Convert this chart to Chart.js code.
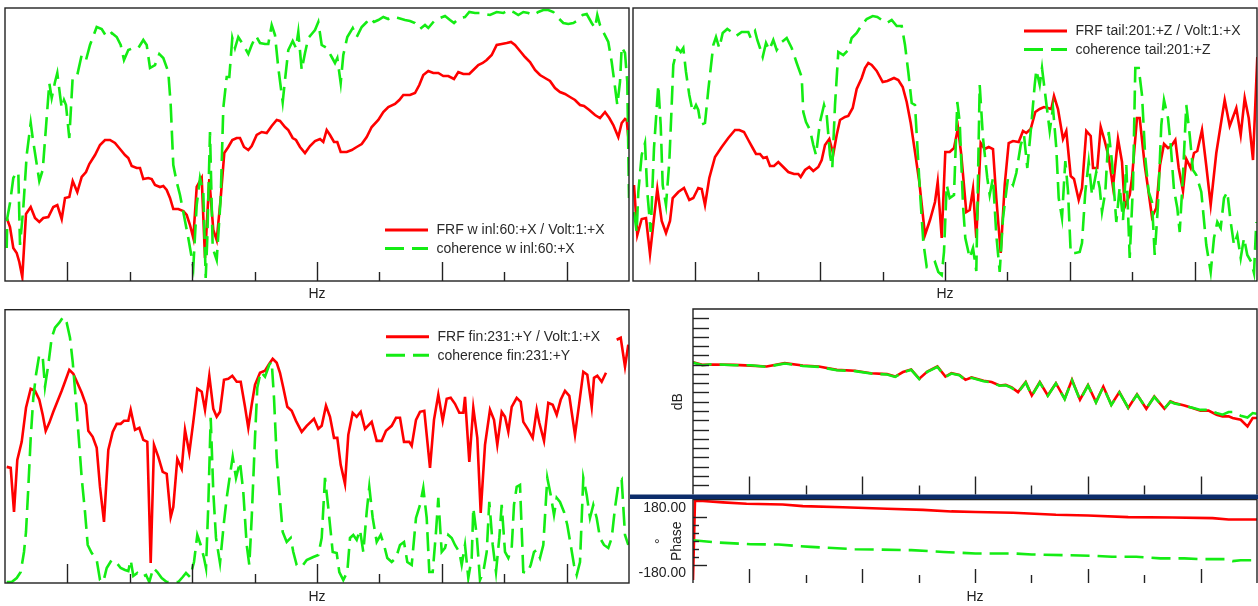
<!DOCTYPE html>
<html><head><meta charset="utf-8">
<script src="https://cdn.jsdelivr.net/npm/chart.js@4.4.1/dist/chart.umd.min.js"></script>
<style>
html,body{margin:0;padding:0;background:#fff;}
#wrap{position:relative;width:1258px;height:606px;overflow:hidden;background:#fff;}
canvas{position:absolute;}
</style></head><body>
<div id="wrap">
<canvas id="c1" width="630" height="305" style="left:0;top:0"></canvas>
<canvas id="c2" width="628" height="305" style="left:630px;top:0"></canvas>
<canvas id="c3" width="630" height="301" style="left:0;top:305px"></canvas>
<canvas id="c4" width="628" height="194" style="left:630px;top:305px"></canvas>
<canvas id="c5" width="628" height="107" style="left:630px;top:499px"></canvas>
</div>
<script>
// ---------- DATA: [frequency (Hz), amplitude] ----------
const winlFrf = [[1.7,63],[5,54],[8.3,33],[11.7,28],[14.3,19],[17.3,4],[21,67],[25.7,74],[30,63],[34.3,59],[38.3,63],[43.3,64],[48.3,74],[52.3,76],[56.7,62],[60,83],[64.3,84],[67.7,100],[72.3,89],[76.7,104],[81,109],[84.3,117],[90,126],[95,136],[100,141],[105,141],[110,138],[115,132],[120,126],[123.3,123],[126.7,115],[131.7,113],[135,113],[138.3,102],[143.3,103],[146.7,102],[150,96],[155,94],[158.3,95],[161.7,91],[165,83],[168.3,72],[173.3,72],[178.3,70],[181.7,66],[185,56],[188.3,43],[191.7,94],[196.7,103],[200,23],[204.3,102],[208.3,51],[211.7,41],[215.7,83],[219.3,128],[223.3,134],[227.3,141],[231.7,143],[235,143],[239,134],[243.3,131],[246.7,135],[251.7,146],[256.7,149],[261.7,148],[266.7,155],[271.7,161],[275,160],[280,154],[283.3,151],[287.7,143],[291,141],[295,134],[300,128],[305,135],[310,140],[315,142],[318.3,139],[321.7,151],[325,146],[329,139],[332.3,139],[335.7,129],[341.7,129],[346.7,131],[351.7,134],[356.7,137],[361.7,144],[366.7,154],[373.3,161],[378.3,169],[383.3,174],[390,177],[394.3,181],[398.3,186],[405,186],[410,188],[414.3,196],[418.3,206],[423.3,210],[428.3,208],[433.3,208],[438.3,205],[443.3,205],[449,202],[453.3,209],[458.3,207],[464.3,207],[468.3,211],[473.3,216],[477.7,218],[481.7,221],[486.7,226],[491.7,236],[496.7,237],[501.7,238],[506,239],[510,236],[515,230],[520,224],[525,219],[530,211],[535,206],[540,203],[545,200],[550,193],[555,189],[560,187],[565,184],[570,181],[575,176],[579,175],[584.3,171],[590,166],[595,163],[600,169],[604.3,163],[608.3,156],[613.3,144],[616.7,158],[620,162],[621.7,161],[624.3,133]];
const winlCoh = [[1.7,33],[2.3,63],[5,78],[8.3,103],[10,106],[13.3,109],[15,36],[18.3,73],[21.7,126],[25.7,158],[27.7,143],[30,128],[34.3,100],[37.7,111],[41,154],[44.3,198],[46.7,183],[50,199],[52.3,208],[55,186],[56.7,173],[59,181],[61,176],[64.3,143],[67.7,204],[72.3,206],[76.7,226],[81,221],[85,236],[91.7,254],[96.7,252],[101.7,244],[106.7,248],[111.7,244],[115.7,236],[119,221],[123.3,231],[128.3,233],[133.3,233],[138.3,241],[141.7,236],[145,213],[150,216],[154.3,227],[158.3,223],[163.3,209],[165.7,176],[168.3,116],[171.7,99],[175,86],[178.3,69],[183.3,43],[188.3,14],[191.7,76],[195,103],[198.3,89],[200.7,3],[202.3,43],[205,149],[207.7,33],[211.7,21],[215.7,83],[218.3,173],[221.7,204],[224.3,204],[227.3,243],[230,233],[233.3,244],[238.3,236],[243.3,227],[246.7,236],[251,245],[255,238],[260,237],[263.3,237],[266.7,256],[270,246],[273.3,213],[277.7,179],[280,201],[283.3,231],[287.7,240],[291,233],[293.3,249],[296.7,211],[300,228],[303.3,243],[306.7,247],[310,251],[313.3,259],[316.7,236],[321.7,233],[326.7,224],[330,218],[332.3,223],[335.7,198],[338.3,226],[342.3,244],[347.7,253],[351.7,244],[356.7,254],[361.7,259],[365,263],[369,259],[373.3,261],[378.3,264],[383.3,262],[388.3,264],[393.3,263],[400,261],[405,260],[410,258],[415,252],[420,256],[423.3,253],[430,261],[435,263],[440,265],[445,261],[449,258],[454.3,263],[460,264],[464.3,269],[470,268],[475,268],[480,267],[485,266],[491.7,269],[498.3,268],[503.3,271],[508.3,269],[513.3,266],[518.3,269],[523.3,268],[528.3,266],[533.3,269],[538.3,271],[543.3,271],[548.3,269],[553.3,263],[558.3,258],[563.3,257],[568.3,258],[573.3,261],[577.7,266],[581.7,267],[586.7,258],[590,253],[592.3,266],[595,256],[598.3,249],[603.3,239],[606.7,219],[610,194],[612.3,176],[615,199],[616.7,234],[620,228],[622.3,199],[624,83]];
const tailFrf = [[1,96],[4.3,46],[8.7,62],[13,63],[17,27],[21,63],[24.3,92],[28.7,60],[33,48],[37,60],[39.7,83],[45.3,89],[51,93],[56.3,81],[60.3,83],[65.3,93],[68.7,92],[72,76],[76.3,103],[82,124],[88.7,134],[95.3,143],[102,151],[106.3,151],[111,149],[115.3,141],[119.7,133],[123,127],[127,127],[130.3,123],[133.7,124],[137,115],[141,115],[145.3,119],[150.3,114],[155.3,109],[161,107],[165.3,107],[167.7,104],[172,111],[176.3,114],[180.3,110],[185.3,114],[188.7,121],[192,136],[196.3,142],[200.3,127],[203.7,146],[207,161],[212,164],[215.3,165],[219.7,173],[223.7,192],[228.7,203],[232,213],[235.3,218],[238.7,216],[243.7,210],[249.7,199],[254.3,200],[261,203],[265.3,201],[269.7,194],[273.7,179],[277.7,158],[282,129],[286.3,99],[292,46],[297,61],[302,79],[304.7,99],[308.7,43],[312.3,129],[316.7,129],[321,133],[325,153],[328.3,126],[333.3,69],[336.7,71],[340,92],[343.3,43],[347.7,138],[351.7,132],[355.7,134],[360,132],[363.3,83],[367.7,28],[371.7,96],[375.7,138],[380,140],[385.7,139],[390,150],[393.3,148],[397.7,152],[402.3,169],[406.7,172],[411,174],[415,173],[418.3,172],[421,185],[425,172],[430,142],[433.3,150],[437.7,105],[441,102],[445.7,81],[449,93],[453.3,150],[457.7,145],[460,113],[464.3,113],[467.7,154],[471.7,140],[475.7,124],[480,94],[485,142],[489,119],[491.7,74],[496.7,86],[499,103],[504,163],[506.7,163],[511.7,116],[515,93],[519,64],[523.3,73],[527,116],[531,137],[535,133],[538.3,135],[542.3,141],[545.7,113],[550,90],[553.3,122],[557.7,113],[561,128],[564.3,130],[569,151],[573.3,115],[577.7,76],[583.3,128],[587.7,156],[591.7,181],[596.7,155],[603.3,173],[607.7,146],[611.7,183],[615.7,163],[620,121],[624.3,224]];
const tailCoh = [[1,69],[3.7,49],[5.3,89],[8.7,126],[12,138],[14.3,89],[17.7,49],[21,133],[25.3,196],[27.7,156],[29.7,96],[33,76],[36.3,119],[38.7,176],[40.3,216],[44.3,233],[47.7,229],[50.3,233],[53,209],[56.3,186],[59.7,169],[63,176],[65.3,171],[67.7,156],[72,158],[75.3,191],[80.3,236],[83,244],[86.3,233],[89.7,248],[94.3,252],[98.7,249],[103,245],[108.7,249],[115.3,249],[117.7,243],[122,250],[124.3,241],[127,233],[129.7,224],[133,238],[136.3,231],[140.3,241],[143.7,231],[148.7,239],[153.7,243],[158.7,233],[163.7,218],[168.7,204],[170.3,169],[173,159],[177,151],[180.3,136],[183,126],[187,159],[191,176],[193.7,166],[197,126],[199.3,113],[202,176],[205.3,229],[210.3,226],[215.3,231],[218.7,243],[223.7,248],[228.7,256],[233.7,262],[239.7,265],[244.3,264],[248.7,261],[253.7,258],[258.7,261],[263.7,255],[268.7,255],[272,236],[275.3,209],[278.7,178],[282,176],[284.3,136],[287,89],[290.3,39],[293.7,14],[298.7,16],[302,19],[305.3,9],[308.7,6],[311,29],[313.7,96],[316.7,83],[321,86],[324.3,179],[326.7,159],[330,76],[332.3,43],[336.7,23],[340,33],[343.3,10],[346.7,196],[350,143],[354.3,103],[356.7,86],[360,103],[363.3,46],[366.7,9],[370,63],[375,103],[380,96],[383.3,108],[387.7,136],[391,146],[394.3,113],[398.3,156],[401.7,196],[403.3,211],[406.7,196],[409,213],[412.3,186],[416.7,150],[420,173],[423.3,133],[425.7,83],[429,63],[432.3,120],[435,90],[437.7,28],[442.3,28],[446.7,29],[449,38],[452.3,89],[455.7,119],[459,86],[463.3,109],[466.7,93],[469,69],[472.3,89],[475.7,149],[479,119],[483.3,59],[486.7,94],[490,61],[493.3,116],[496.7,23],[500,96],[502.3,213],[505.7,213],[509,186],[512.3,123],[515.7,89],[519,79],[521.7,26],[525,76],[528.3,156],[531,181],[535,163],[537.7,136],[541,91],[544.3,73],[546.7,49],[550,106],[553.3,176],[556.7,146],[560,111],[563.3,106],[568.3,89],[573.3,36],[577.7,9],[581,43],[584.3,59],[587.7,53],[591,83],[594.3,89],[597.7,59],[601,36],[604.3,46],[607.7,23],[611,43],[614.3,26],[618.3,19],[621,8],[623.3,59]];
const finFrf = [[1.7,116],[5.7,115],[9,71],[12.3,123],[16.7,141],[21,175],[25.7,194],[30,192],[34.3,183],[37.7,168],[40.7,152],[44.3,160],[48.3,171],[52.3,181],[56.7,192],[60,201],[64.3,213],[68.3,209],[72.3,200],[76.7,190],[81,178],[83.3,152],[87.7,146],[91.7,135],[95,96],[99,61],[103.3,133],[107.7,151],[111.7,159],[115.7,159],[119,162],[123.3,162],[125.7,173],[130,153],[134.3,155],[138.3,143],[142.3,141],[145.7,20],[149,138],[153.3,126],[157.7,111],[161.7,109],[165.7,66],[168.3,76],[172.3,124],[176.7,114],[180,153],[184.3,130],[188.3,161],[192.3,194],[196.7,191],[200,173],[204.3,207],[208.3,174],[211.7,166],[215,171],[219,203],[223.3,204],[227.3,207],[231.7,201],[235.7,201],[240,176],[243.3,155],[246.7,178],[250,198],[255,210],[260,212],[264.3,219],[267.7,224],[271.7,220],[275,210],[278.3,195],[282.3,176],[286.7,172],[291,162],[296.7,151],[301.7,157],[309,164],[313.3,154],[316.7,157],[321,177],[325,166],[329,145],[332.3,145],[335.7,118],[340,99],[343.3,148],[347.7,170],[351.7,166],[355.7,171],[360,154],[366.7,161],[371.7,142],[376.7,142],[381,152],[386.7,157],[391,165],[395,165],[399,141],[404.3,141],[406.7,137],[411,163],[415,171],[419.3,172],[425,115],[429,163],[433.3,188],[437.7,162],[441.7,184],[445.7,185],[450,179],[454.3,170],[458.3,170],[460,186],[464.3,121],[468.3,175],[472.3,145],[475.7,70],[480,138],[485,173],[489,163],[492.3,138],[496.7,171],[500,166],[503.3,151],[506.7,176],[511.7,185],[515.7,181],[518.3,161],[523.3,153],[527.7,145],[531.7,173],[534.3,160],[539,142],[543.3,180],[547.7,178],[551.7,168],[555.7,183],[560,192],[564.3,187],[570,148],[574.3,180],[578.3,211],[582.3,208],[586.7,176],[589,205],[592.3,207],[596.7,201],[601,210],[606,null],[611.7,243],[615.7,245],[620,216],[623.3,238]];
const finCoh = [[1.7,1],[6.7,1],[11.7,5],[15.7,11],[19,31],[21,51],[23.3,95],[25.7,145],[28.3,185],[31,208],[34.3,228],[37.7,226],[40,196],[43.3,218],[46.7,245],[50,255],[54.3,260],[58.3,266],[61.7,260],[65,245],[67.7,221],[71,181],[73.3,151],[76.7,105],[80,71],[82.7,38],[86.7,30],[91.7,23],[95,3],[98.3,1],[101.7,15],[106.7,23],[111.7,20],[115.7,15],[120,13],[123.3,12],[125.7,23],[128.3,7],[132.3,10],[136.7,6],[141,8],[144.3,1],[148.3,15],[152.3,11],[156.7,5],[161.7,1],[168.3,1],[173.3,1],[177.7,6],[181,10],[185,6],[189,21],[192.3,48],[195.7,38],[199,25],[201,15],[203.3,78],[205.7,165],[208.3,91],[211,45],[215,20],[219,61],[221.7,85],[225,108],[227.7,126],[231,105],[235,121],[238.3,91],[241.7,38],[244.3,18],[246.7,65],[250,145],[252.3,195],[255.7,211],[260,206],[264.3,218],[266.7,221],[269,185],[271.7,125],[274.3,91],[277.7,51],[281.7,41],[285.7,45],[288.3,31],[291.7,18],[296.7,16],[301.7,23],[308.3,26],[313.3,28],[316.7,45],[320,105],[323.3,75],[327.7,31],[331.7,30],[334.3,11],[338.3,3],[342.3,11],[345,45],[348.3,48],[351.7,43],[355,53],[358.3,31],[361.7,71],[364.3,96],[367.7,65],[371.7,41],[375.7,48],[379,38],[382.3,25],[386.7,21],[391,25],[395,38],[399,41],[402.3,21],[406.7,18],[411,65],[415,78],[418.3,95],[421.7,65],[424.3,11],[427.7,11],[431,51],[433.3,85],[436.7,31],[440,35],[443.3,48],[446.7,45],[450,38],[454.3,31],[456.7,18],[460,38],[463.3,5],[466.7,25],[468.3,75],[471.7,48],[475,3],[478.3,11],[481.7,31],[484.3,81],[487.7,38],[491,11],[494.3,45],[496.7,78],[500,31],[503.3,25],[506.7,35],[509,78],[511.7,96],[515,98],[518.3,11],[522.3,10],[525.7,18],[529,31],[531.7,33],[535,25],[538.3,38],[542.3,105],[545.7,88],[549,68],[551.7,85],[555,81],[559,71],[562.3,58],[565.7,38],[569,18],[571.7,8],[575,21],[578.3,105],[581.7,88],[585,65],[588.3,78],[591.7,65],[595,45],[599,38],[603.3,35],[606.7,45],[610,75],[613.3,98],[616.7,103],[620,48],[623.3,38]];
// bottom-right: magnitude (dB) and phase (deg)
const magRed = [[0,-28.7],[9.3,-30.1],[19.4,-29.9],[41.5,-30.1],[57.5,-30.5],[73.6,-31.0],[91.7,-29.2],[109.8,-30.5],[125.8,-31.0],[143.9,-32.8],[162,-33.3],[178,-34.6],[194,-35.1],[202.2,-36.4],[210,-34.0],[218.2,-32.6],[226.3,-37.6],[234.3,-33.7],[244.4,-31.0],[252.4,-36.4],[258.4,-34.6],[266.4,-35.5],[272.5,-38.2],[278.5,-36.9],[290.6,-38.7],[298.6,-39.4],[306.6,-41.2],[312.7,-40.9],[318.7,-42.3],[325,-44.8],[332.7,-39.4],[338.8,-46.6],[346.8,-39.4],[354.8,-46.6],[362.9,-40.0],[371.7,-48.4],[379,-38.2],[387,-48.9],[395,-41.0],[403,-50.2],[410.3,-41.8],[418.3,-51.6],[426.4,-44.8],[435.2,-53.4],[444,-46.0],[453.3,-53.8],[461.3,-47.2],[471.4,-53.8],[477.4,-49.8],[481.4,-50.7],[491.4,-52.0],[499.5,-53.4],[507.5,-54.8],[515.5,-54.8],[523.6,-57.0],[529.6,-57.9],[535.6,-57.9],[539.6,-58.8],[547.7,-59.7],[554.5,-63.3],[559.7,-58.8],[564,-58.8]];
const magGreen = [[0,-28.9],[9.3,-30.3],[19.4,-29.7],[41.5,-30.3],[57.5,-30.3],[73.6,-31.2],[91.7,-29.4],[109.8,-30.7],[125.8,-31.2],[143.9,-33.0],[162,-33.5],[178,-34.8],[194,-35.3],[202.2,-36.6],[210,-34.2],[218.2,-32.8],[226.3,-37.8],[234.3,-33.9],[244.4,-31.2],[252.4,-36.6],[258.4,-34.8],[266.4,-35.7],[272.5,-38.4],[278.5,-37.1],[290.6,-38.9],[298.6,-39.6],[306.6,-41.4],[312.7,-41.1],[318.7,-42.5],[325,-45.0],[332.7,-39.6],[338.8,-46.8],[346.8,-39.6],[354.8,-46.8],[362.9,-40.2],[371.7,-48.6],[379,-38.4],[387,-49.1],[395,-41.2],[403,-50.4],[410.3,-42.0],[418.3,-51.8],[426.4,-45.0],[435.2,-53.2],[444,-46.2],[453.3,-53.6],[461.3,-47.4],[471.4,-53.6],[477.4,-50.0],[481.4,-50.9],[491.4,-52.2],[499.5,-53.2],[507.5,-54.4],[515.5,-54.4],[523.6,-56.1],[529.6,-57.0],[535.6,-55.5],[539.6,-55.5],[547.7,-57.5],[554.5,-58.5],[559.7,-56.1],[564,-56.5]];
const phaseRed = [[0,-218],[2,224],[10,222],[30,214],[53.5,206],[89.7,202],[109.8,193],[150,187],[194,178.5],[230,172],[258.4,163.6],[282.5,160],[320,156],[362.9,145],[395,141],[435.2,132],[479.4,130],[519.6,126.5],[535.6,119],[564,119]];
const phaseGreen = [[0,3],[25.4,-10],[57.5,-19],[85.7,-21],[117.8,-34],[162,-47],[218.2,-52],[250.4,-62],[282.5,-71],[322.7,-71],[338.8,-76],[370.9,-80],[403,-84],[419,-89],[443.2,-89],[467.3,-98],[491.4,-98],[507.5,-102],[531.6,-102],[539.6,-113],[547.7,-108],[559.7,-108],[564,-110]];
const phaseTickValues = [-180,-135,-90,-45,0,45,90,135,180];

const labels = {
  winlFrf:'FRF w inl:60:+X / Volt:1:+X', winlCoh:'coherence w inl:60:+X',
  tailFrf:'FRF tail:201:+Z / Volt:1:+X', tailCoh:'coherence tail:201:+Z',
  finFrf:'FRF fin:231:+Y / Volt:1:+X', finCoh:'coherence fin:231:+Y'
};

// ---------- STYLE ----------
const RED = '#ff0000', GREEN = '#14ec14', INK = '#222222';
const FONT = 'Liberation Sans, Arial, Helvetica, sans-serif';
const DASH = [19, 8];

const pts = arr => arr.map(p => ({x: p[0], y: p[1]}));
function ds(label, arr, color, dash, order) {
  return {label, data: pts(arr), borderColor: color, borderWidth: 2.6, borderDash: dash || [], order: order,
    pointRadius: 0, tension: 0, spanGaps: false, fill: false, borderJoinStyle: 'miter', borderCapStyle: 'butt'};
}

const framePlugin = {
  id: 'frame',
  afterDraw(chart, args, o) {
    const {ctx, chartArea: a, scales} = chart;
    ctx.save();
    ctx.strokeStyle = INK; ctx.lineWidth = 1.4; ctx.setLineDash([]);
    if (o.box !== false) ctx.strokeRect(a.left, a.top, a.right - a.left, a.bottom - a.top);
    else {
      ctx.beginPath();
      ctx.moveTo(a.left, a.bottom); ctx.lineTo(a.left, a.top); ctx.lineTo(a.right, a.top); ctx.lineTo(a.right, a.bottom);
      ctx.stroke();
    }
    const xs = scales.x;
    xs.ticks.forEach((t, i) => {
      if (i === 0 || i === xs.ticks.length - 1) return;
      const px = Math.round(xs.getPixelForValue(t.value)) + 0.5;
      const len = (i % 2) ? o.major : o.minor;
      ctx.beginPath(); ctx.moveTo(px, a.bottom); ctx.lineTo(px, a.bottom - len); ctx.stroke();
    });
    if (o.yTick) {
      const ys = scales.y;
      ys.ticks.forEach((t, i) => {
        if (i === 0 || i === ys.ticks.length - 1) return;
        const py = Math.round(ys.getPixelForValue(t.value)) + 0.5;
        const len = o.yTickLen(t.value);
        ctx.beginPath(); ctx.moveTo(a.left, py); ctx.lineTo(a.left + len, py); ctx.stroke();
      });
    }
    if (o.sep) {
      ctx.fillStyle = '#0c2d6b';
      ctx.fillRect(0, a.bottom, chart.width, 4.5);
    }
    ctx.restore();
  }
};
const legendPlugin = {
  id: 'inLegend',
  afterDraw(chart, args, o) {
    if (o.x === undefined) return;
    const {ctx, chartArea: a} = chart;
    ctx.save();
    ctx.font = '14px ' + FONT; ctx.textBaseline = 'middle'; ctx.fillStyle = '#2a2a2a';
    chart.data.datasets.forEach((d, i) => {
      const y = a.top + o.y + i * 18.5;
      const x = a.left + o.x;
      ctx.strokeStyle = d.borderColor; ctx.lineWidth = 3; ctx.setLineDash(d.borderDash || []);
      ctx.beginPath(); ctx.moveTo(x, y); ctx.lineTo(x + 43, y); ctx.stroke();
      ctx.fillText(d.label, x + 51.5, y + 0.5);
    });
    ctx.restore();
  }
};
Chart.register(framePlugin, legendPlugin);

function xScale(max, step, titlePad, showTitle) {
  return {type: 'linear', min: 0, max: max, display: true,
    ticks: {display: false, stepSize: step, autoSkip: false},
    grid: {display: false, drawTicks: false}, border: {display: false},
    title: {display: showTitle, text: 'Hz', color: INK, font: {family: FONT, size: 14}, padding: titlePad}};
}
function baseOpts(pad) {
  return {responsive: false, animation: false, events: [], layout: {padding: pad},
    plugins: {legend: {display: false}, tooltip: {enabled: false}}};
}
function topChart(id, frf, coh, lf, lc, pad, leg, titlePad) {
  const o = baseOpts(pad);
  o.plugins.frame = {major: 19, minor: 9};
  o.plugins.inLegend = leg;
  o.scales = {x: xScale(624, 62.4, titlePad, true), y: {display: false, min: 0, max: 273}};
  return new Chart(document.getElementById(id), {type: 'line',
    data: {datasets: [ds(lf, frf, RED, null, 2), ds(lc, coh, GREEN, DASH, 1)]}, options: o});
}
topChart('c1', winlFrf, winlCoh, labels.winlFrf, labels.winlCoh, {left: 5, top: 8, right: 1, bottom: 0}, {x: 380, y: 222}, {top: 4.9, bottom: 2.3});
topChart('c2', tailFrf, tailCoh, labels.tailFrf, labels.tailCoh, {left: 3, top: 8, right: 1, bottom: 0}, {x: 391, y: 23}, {top: 4.9, bottom: 2.3});
topChart('c3', finFrf, finCoh, labels.finFrf, labels.finCoh, {left: 5, top: 4.7, right: 1, bottom: 0}, {x: 381, y: 27}, {top: 5.9, bottom: 0.3});

const fixAxis = s => { s.width = 63; s.paddingTop = 0; s.paddingBottom = 0; };
// magnitude
(function(){
  const o = baseOpts({left: 0, top: 4, right: 1, bottom: 4.5});
  o.plugins.frame = {major: 18, minor: 9, box: false, sep: true, yTick: true, yTickLen: () => 16};
  const xs = xScale(564, 56.4, {top: 0, bottom: 0}, false);
  xs.display = false;
  o.scales = {x: xs,
    y: {min: -100, max: 0, display: true, ticks: {display: false, stepSize: 5},
      grid: {display: false, drawTicks: false}, border: {display: false},
      title: {display: true, text: 'dB', color: INK, font: {family: FONT, size: 14}, padding: {top: 39.6, bottom: 0}},
      afterFit: fixAxis}};
  new Chart(document.getElementById('c4'), {type: 'line',
    data: {datasets: [ds('FRF', magRed, RED, null, 2), ds('coherence', magGreen, GREEN, DASH, 1)]}, options: o});
})();
// phase
(function(){
  const o = baseOpts({left: 0, top: 0.5, right: 1, bottom: 0});
  o.plugins.frame = {major: 14, minor: 8, box: false, yTick: true, yTickLen: v => (Math.abs(v) === 135 ? 14 : 6)};
  o.scales = {x: xScale(564, 56.4, {top: 5.9, bottom: 0.3}, true),
    y: {min: -235, max: 230, display: true,
      afterBuildTicks: s => { s.ticks = phaseTickValues.map(v => ({value: v})); },
      ticks: {autoSkip: false, color: INK, font: {family: FONT, size: 14}, padding: 7,
        callback: v => (Math.abs(v) === 180 ? v.toFixed(2) : '')},
      grid: {display: false, drawTicks: false}, border: {display: false},
      title: {display: true, text: ['°', 'Phase'], color: INK, font: {family: FONT, size: 14}, padding: {top: 22.3, bottom: 0}},
      afterFit: fixAxis}};
  new Chart(document.getElementById('c5'), {type: 'line',
    data: {datasets: [ds('FRF', phaseRed, RED, null, 2), ds('coherence', phaseGreen, GREEN, DASH, 1)]}, options: o});
})();
</script>
</body></html>
